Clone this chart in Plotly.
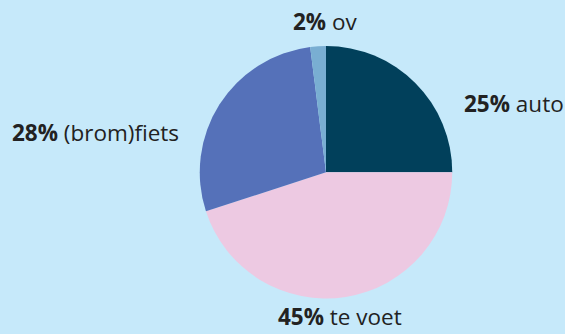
import plotly.graph_objects as go

categories = ["auto", "te voet", "(brom)fiets", "ov"]
values = [25, 45, 28, 2]
colors = ["#01405b", "#edc9e2", "#5571b9", "#79aed2"]

W, H = 565, 334
# label anchor positions (pixels), horizontal and vertical alignment
label_pos = {
    "auto": (462, 103, "left", "middle"),
    "te voet": (340, 334, "center", "bottom"),
    "(brom)fiets": (181, 132, "right", "middle"),
    "ov": (325, 22, "center", "middle"),
}

fig = go.Figure(go.Pie(
    labels=categories,
    values=values,
    marker=dict(colors=colors, line=dict(width=0)),
    sort=False,
    direction="clockwise",
    rotation=0,
    textinfo="none",
    hoverinfo="label+percent",
    showlegend=False,
    domain=dict(x=[199.5 / W, 452.5 / W], y=[1 - 298.5 / H, 1 - 46 / H]),
))

anns = []
for c, v in zip(categories, values):
    px, py, al, va = label_pos[c]
    anns.append(dict(
        x=px / W, y=1 - py / H, xref="paper", yref="paper",
        xanchor=al, yanchor=va, showarrow=False,
        text=f"<b>{v}%</b> {c}",
        font=dict(family="Open Sans, Lato, sans-serif", size=22.5, color="#222222"),
    ))

fig.update_layout(
    width=W, height=H,
    margin=dict(l=0, r=0, t=0, b=0),
    paper_bgcolor="#c6e9fa",
    plot_bgcolor="#c6e9fa",
    annotations=anns,
)

fig.write_html("out.html")
